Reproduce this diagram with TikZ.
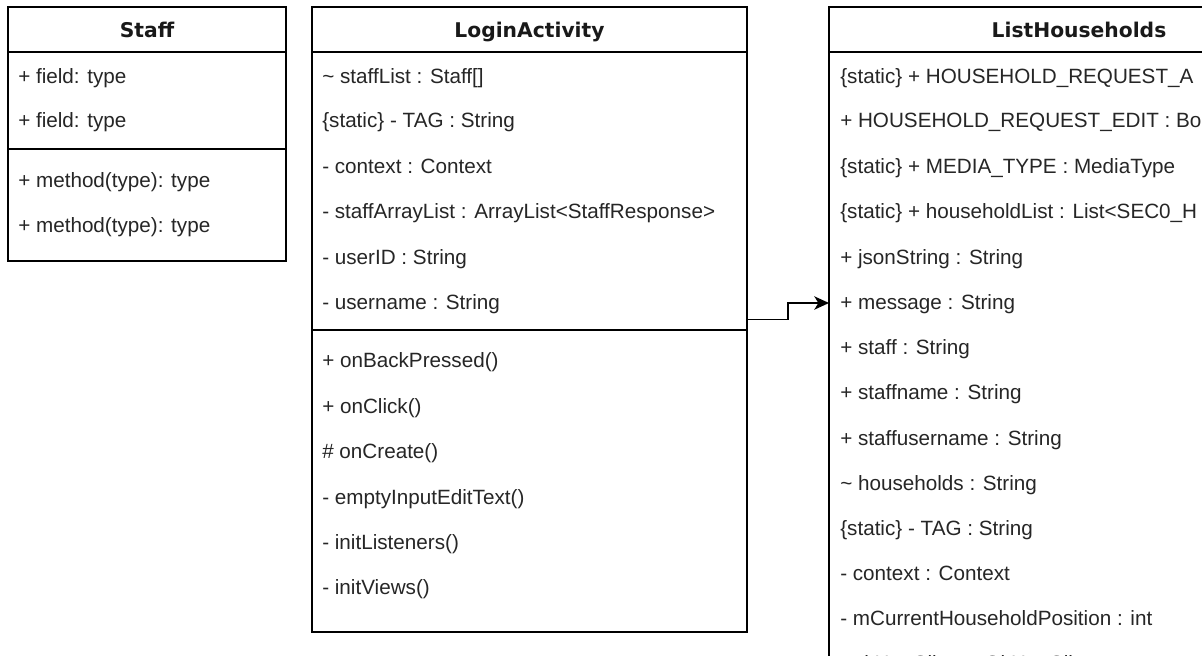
\documentclass[tikz,border=0pt]{standalone}
\usepackage{fontspec}
\setmainfont{Liberation Sans}
\newfontfamily\headfont{DejaVu Sans}
\usetikzlibrary{arrows.meta,fit}

% one unit = one screen pixel, y grows downwards
\tikzset{
  x=0.75pt, y=-0.75pt,
  classbox/.style={draw=black, line width=1.3pt, inner sep=0pt, fill=white},
  sepline/.style={draw=black, line width=1.3pt},
  member/.style={anchor=base west, inner sep=0pt, text=black!85,
    font=\fontsize{15.5}{18}\selectfont},
  classname/.style={anchor=base, inner sep=0pt, text=black!90,
    font=\headfont\bfseries\fontsize{15.2}{18}\selectfont},
  conn/.style={draw=black, line width=1.2pt,
    -{Stealth[length=11pt,width=10pt,inset=3pt]}},
}

\begin{document}
\begin{tikzpicture}
\useasboundingbox (0,0) rectangle (1202,656);
\clip (0,0) rectangle (1202,656);
\fill[white] (0,0) rectangle (1202,656);

% ---------- Staff ----------
\node[classbox, fit={(8,7) (286,261)}] (staff) {};
\draw[sepline] (8,52) -- (286,52);
\draw[sepline] (8,149) -- (286,149);
\node[classname] (staffname) at (147,37.5) {Staff};
\node[member] (sf1) at (18,83.5) {+ field: type};
\node[member] (sf2) at (18,127.5) {+ field: type};
\node[member] (sm1) at (18,187.5) {+ method(type): type};
\node[member] (sm2) at (18,232.5) {+ method(type): type};

% ---------- LoginActivity ----------
\node[classbox, fit={(312,7) (747,632)}] (login) {};
\draw[sepline] (312,52) -- (747,52);
\draw[sepline] (312,330) -- (747,330);
\node[classname] (loginname) at (529.5,37.5) {LoginActivity};
\node[member] (lf1) at (322,83.5) {\textasciitilde{} staffList : Staff[]};
\node[member] (lf2) at (322,127.5) {\{static\} - TAG : String};
\node[member] (lf3) at (322,173.5) {- context : Context};
\node[member] (lf4) at (322,218.5) {- staffArrayList : ArrayList<StaffResponse>};
\node[member] (lf5) at (322,264.5) {- userID : String};
\node[member] (lf6) at (322,309.5) {- username : String};
\node[member] (lm1) at (322,367.5) {+ onBackPressed()};
\node[member] (lm2) at (322,413.5) {+ onClick()};
\node[member] (lm3) at (322,458.5) {\# onCreate()};
\node[member] (lm4) at (322,504.5) {- emptyInputEditText()};
\node[member] (lm5) at (322,549.5) {- initListeners()};
\node[member] (lm6) at (322,594.5) {- initViews()};

% ---------- ListHouseholds ----------
\node[classbox, fit={(829,7) (1329,700)}] (lh) {};
\draw[sepline] (829,52) -- (1329,52);
\node[classname] (lhname) at (1079,37.5) {ListHouseholds};
\node[member] (hf1) at (840,83.5) {\{static\} + HOUSEHOLD\_REQUEST\_A};
\node[member] (hf2) at (840,127.5) {+ HOUSEHOLD\_REQUEST\_EDIT : Bo};
\node[member] (hf3) at (840,173.5) {\{static\} + MEDIA\_TYPE : MediaType};
\node[member] (hf4) at (840,218.5) {\{static\} + householdList : List<SEC0\_H};
\node[member] (hf5) at (840,264.5) {+ jsonString : String};
\node[member] (hf6) at (840,309.5) {+ message : String};
\node[member] (hf7) at (840,354.5) {+ staff : String};
\node[member] (hf8) at (840,399.5) {+ staffname : String};
\node[member] (hf9) at (840,445.5) {+ staffusername : String};
\node[member] (hf10) at (840,490.5) {\textasciitilde{} households : String};
\node[member] (hf11) at (840,535.5) {\{static\} - TAG : String};
\node[member] (hf12) at (840,580.5) {- context : Context};
\node[member] (hf13) at (840,625.5) {- mCurrentHouseholdPosition : int};
\node[member] (hf14) at (840,670) {- okHttpClient : OkHttpClient};

% ---------- association ----------
\coordinate (msgport) at (829,303);
\draw[conn] (login.east) -- ++(40,0) |- (msgport);
\end{tikzpicture}
\end{document}
